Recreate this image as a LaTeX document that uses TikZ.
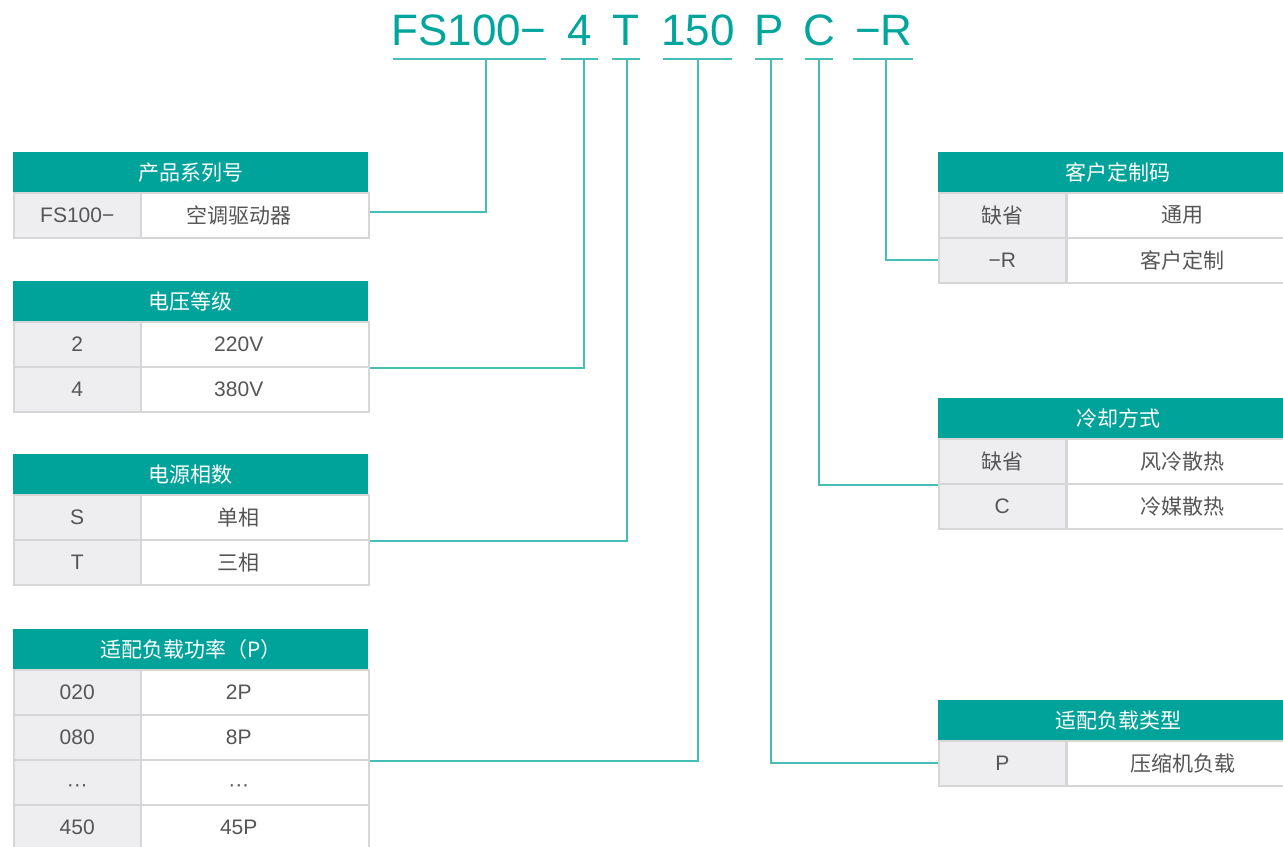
\documentclass[tikz,border=0pt]{standalone}
\usepackage{fontspec}
\setmainfont{Liberation Sans}
\newfontfamily\cjk{Noto Sans CJK SC}
\definecolor{hdrteal}{HTML}{00A39A}
\definecolor{codeteal}{HTML}{00A59B}
\definecolor{connteal}{HTML}{45BFB5}
\definecolor{cellgray}{HTML}{EEEEF0}
\definecolor{bordergray}{HTML}{D6D6D6}
\definecolor{txtgray}{HTML}{555555}
\begin{document}
\begin{tikzpicture}[x=1bp,y=-1bp,
  hdr/.style={fill=hdrteal, text=white, minimum width=355bp, minimum height=40bp,
    anchor=north west, inner sep=0pt, font=\cjk\fontsize{21bp}{24bp}\selectfont},
  rhdr/.style={hdr, minimum width=360bp},
  keycell/.style={fill=cellgray, draw=bordergray, line width=1.5bp, minimum width=127bp,
    minimum height=45bp, anchor=north west, inner sep=0pt, text=txtgray,
    font=\fontsize{21bp}{24bp}\selectfont},
  valcell/.style={keycell, fill=white, minimum width=228bp},
  rvalcell/.style={valcell, minimum width=232bp},
  lbl/.style={xshift=-16bp, inner sep=0pt, text=txtgray, font=\fontsize{21bp}{24bp}\selectfont},
  dotlbl/.style={lbl, yshift=-6bp},
  kdotlbl/.style={yshift=-6bp, inner sep=0pt, text=txtgray, font=\fontsize{21bp}{24bp}\selectfont},
  code/.style={text=codeteal, anchor=base, inner sep=0pt, font=\fontsize{44bp}{48bp}\selectfont},
  uline/.style={draw=connteal, line width=2bp},
  conn/.style={draw=connteal, line width=2bp}
]
\useasboundingbox (0,0) rectangle (1283,847);
\clip (0,0) rectangle (1283,847);

% ---- code line ----
\node[code] (c1) at (469,45) {FS100−};
\node[code] (c2) at (580,45) {4};
\node[code] (c3) at (626,45) {T};
\node[code] (c4) at (698,45) {150};
\node[code] (c5) at (769,45) {P};
\node[code] (c6) at (819,45) {C};
\node[code] (c7) at (884,45) {−R};
\draw[uline] (393,59) -- (546,59);
\draw[uline] (561,59) -- (598,59);
\draw[uline] (612,59) -- (640,59);
\draw[uline] (663,59) -- (732,59);
\draw[uline] (755,59) -- (783,59);
\draw[uline] (805,59) -- (833,59);
\draw[uline] (853,59) -- (913,59);
\coordinate (t1) at (486,59);
\coordinate (t2) at (584,59);
\coordinate (t3) at (627,59);
\coordinate (t4) at (698,59);
\coordinate (t5) at (771,59);
\coordinate (t6) at (819,59);
\coordinate (t7) at (886,59);

% ---- table 1 ----
\node[hdr] (h1) at (13,152) {产品系列号};
\node[keycell] (k11) at (13,192) {FS100−};
\node[valcell, label={[lbl]center:{\cjk 空调驱动器}}] (v11) at (140,192) {};

% ---- table 2 ----
\node[hdr] (h2) at (13,281) {电压等级};
\node[keycell] (k21) at (13,321) {2};
\node[valcell, label={[lbl]center:220V}] (v21) at (140,321) {};
\node[keycell] (k22) at (13,366) {4};
\node[valcell, label={[lbl]center:380V}] (v22) at (140,366) {};

% ---- table 3 ----
\node[hdr] (h3) at (13,454) {电源相数};
\node[keycell] (k31) at (13,494) {S};
\node[valcell, label={[lbl]center:{\cjk 单相}}] (v31) at (140,494) {};
\node[keycell] (k32) at (13,539) {T};
\node[valcell, label={[lbl]center:{\cjk 三相}}] (v32) at (140,539) {};

% ---- table 4 ----
\node[hdr] (h4) at (13,629) {适配负载功率（P）};
\node[keycell] (k41) at (13,669) {020};
\node[valcell, label={[lbl]center:2P}] (v41) at (140,669) {};
\node[keycell] (k42) at (13,714) {080};
\node[valcell, label={[lbl]center:8P}] (v42) at (140,714) {};
\node[keycell, label={[kdotlbl]center:···}] (k43) at (13,759) {};
\node[valcell, label={[dotlbl]center:···}] (v43) at (140,759) {};
\node[keycell] (k44) at (13,804) {450};
\node[valcell, label={[lbl]center:45P}] (v44) at (140,804) {};

% ---- right table 1 ----
\node[rhdr] (r1) at (938,152) {客户定制码};
\node[keycell] (r11) at (938,192) {\cjk 缺省};
\node[rvalcell] (s11) at (1066,192) {\cjk 通用};
\node[keycell] (r12) at (938,237) {−R};
\node[rvalcell] (s12) at (1066,237) {\cjk 客户定制};

% ---- right table 2 ----
\node[rhdr] (r2) at (938,398) {冷却方式};
\node[keycell] (r21) at (938,438) {\cjk 缺省};
\node[rvalcell] (s21) at (1066,438) {\cjk 风冷散热};
\node[keycell] (r22) at (938,483) {C};
\node[rvalcell] (s22) at (1066,483) {\cjk 冷媒散热};

% ---- right table 3 ----
\node[rhdr] (r3) at (938,700) {适配负载类型};
\node[keycell] (r31) at (938,740) {P};
\node[rvalcell] (s31) at (1066,740) {\cjk 压缩机负载};

% ---- connectors ----
\draw[conn] (t1) |- ([yshift=3bp]v11.east);
\draw[conn] (t2) |- (v21.south east);
\draw[conn] (t3) |- (v31.south east);
\draw[conn] (t4) |- (v42.south east);
\draw[conn] (t5) |- (r31.west);
\draw[conn] (t6) |- (r21.south west);
\draw[conn] (t7) |- (r12.west);
\end{tikzpicture}
\end{document}
